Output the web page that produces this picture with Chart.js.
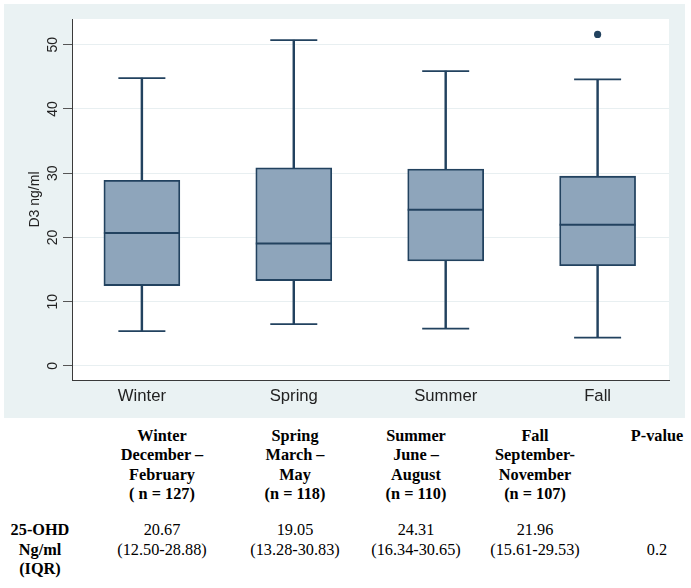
<!DOCTYPE html>
<html>
<head>
<meta charset="utf-8">
<script src="https://cdn.jsdelivr.net/npm/chart.js@4.4.1/dist/chart.umd.min.js"></script>
<style>
  body { margin: 0; background: #fff; width: 691px; height: 588px; position: relative; overflow: hidden; }
  #panel { position: absolute; left: 4px; top: 4px; width: 681px; height: 414px; background: #eaf2f3; }
  .cell { position: absolute; width: 150px; margin-left: -75px; text-align: center;
          font-family: "Liberation Serif", "Times New Roman", serif; font-size: 16.3px;
          line-height: 19.3px; color: #000; white-space: nowrap; }
  .b { font-weight: bold; }
</style>
</head>
<body>
<div id="panel"><canvas id="chart"></canvas></div>
<div id="table"></div>
<script>
const seasons = ['Winter', 'Spring', 'Summer', 'Fall'];
const monthsFrom = ['December \u2013', 'March \u2013', 'June \u2013', 'September-'];
const monthsTo = ['February', 'May', 'August', 'November'];
const nLabels = ['( n = 127)', '(n = 118)', '(n = 110)', '(n = 107)'];
const q1 = [12.50, 13.28, 16.34, 15.61];
const medians = [20.67, 19.05, 24.31, 21.96];
const q3 = [28.88, 30.83, 30.65, 29.53];
const whiskerLow = [5.4, 6.5, 5.8, 4.4];
const whiskerHigh = [44.8, 50.7, 45.9, 44.6];
const outlierSeason = [4];
const outlierValue = [51.6];
const yTicks = [0, 10, 20, 30, 40, 50];
const pValue = '0.2';

const navy = '#22425f';
const pos = seasons.map((s, i) => i + 1);
const pts = (vals) => vals.map((v, i) => ({ x: pos[i], y: v }));
const span = (a, b) => a.map((v, i) => ({ x: pos[i], y: [v, b[i]] }));

const plotBg = {
  id: 'plotBg',
  beforeDraw(chart) {
    const { ctx, chartArea: a } = chart;
    ctx.save();
    ctx.fillStyle = '#ffffff';
    ctx.fillRect(a.left, a.top, a.right - a.left, a.bottom - a.top);
    ctx.restore();
  }
};

const marker = (data, radius, width) => ({
  type: 'line',
  data: data,
  showLine: false,
  pointStyle: 'line',
  pointRadius: radius,
  pointHoverRadius: radius,
  pointBorderWidth: width,
  pointHoverBorderWidth: width,
  borderColor: navy,
  pointBorderColor: navy
});

const whisker = (data) => ({
  type: 'bar',
  data: data,
  grouped: false,
  barThickness: 1.8,
  backgroundColor: navy,
  borderWidth: 0
});

new Chart(document.getElementById('chart'), {
  type: 'bar',
  plugins: [plotBg],
  data: {
    datasets: [
      marker(pts(medians), 38, 2),
      {
        type: 'line',
        data: outlierValue.map((v, i) => ({ x: outlierSeason[i], y: v })),
        showLine: false,
        pointRadius: 3.6,
        pointHoverRadius: 3.6,
        pointBackgroundColor: navy,
        pointBorderColor: navy,
        pointBorderWidth: 0
      },
      marker(pts(whiskerHigh), 23.5, 1.8),
      marker(pts(whiskerLow), 23.5, 1.8),
      {
        type: 'bar',
        data: span(q1, q3),
        grouped: false,
        barThickness: 76,
        backgroundColor: '#8ea5bb',
        borderColor: navy,
        borderWidth: 1.8,
        borderSkipped: false
      },
      whisker(span(q3, whiskerHigh)),
      whisker(span(whiskerLow, q1))
    ]
  },
  options: {
    responsive: true,
    maintainAspectRatio: false,
    animation: false,
    layout: { autoPadding: false, padding: { top: 15, right: 16, left: 0, bottom: 0 } },
    plugins: { legend: { display: false }, tooltip: { enabled: false } },
    scales: {
      x: {
        type: 'linear',
        offset: false,
        min: 0.54,
        max: 4.47,
        afterBuildTicks: (s) => { s.ticks = pos.map((v) => ({ value: v })); },
        afterFit: (s) => { s.height = 38; s.paddingLeft = 0; s.paddingRight = 0; },
        grid: { display: false, offset: false },
        border: { display: true, color: '#3a3a3a', width: 1 },
        ticks: {
          padding: -2,
          color: '#222',
          font: { family: '"Liberation Sans", Arial, sans-serif', size: 16.7 },
          callback: (v) => seasons[Math.round(v) - 1]
        }
      },
      y: {
        min: -2.2,
        max: 54,
        afterBuildTicks: (s) => { s.ticks = yTicks.map((v) => ({ value: v })); },
        afterFit: (s) => { s.width = 68; s.paddingTop = 0; s.paddingBottom = 0; },
        grid: { color: '#e8eff1', tickColor: '#555', tickLength: 9, lineWidth: 1 },
        border: { display: true, color: '#3a3a3a', width: 1 },
        title: {
          display: true,
          text: 'D3 ng/ml',
          color: '#222',
          padding: { top: 22.6, bottom: 0 },
          font: { family: '"Liberation Sans", Arial, sans-serif', size: 14 }
        },
        ticks: {
          minRotation: 90,
          maxRotation: 90,
          crossAlign: 'center',
          padding: 2,
          color: '#222',
          font: { family: '"Liberation Sans", Arial, sans-serif', size: 14 }
        }
      }
    }
  }
});

// table under the chart, built from the same arrays
const colX = [162, 295, 416, 535];
const table = document.getElementById('table');
function cell(x, y, lines, bold) {
  const d = document.createElement('div');
  d.className = 'cell' + (bold ? ' b' : '');
  d.style.left = x + 'px';
  d.style.top = y + 'px';
  d.innerHTML = lines.join('<br>');
  table.appendChild(d);
}
seasons.forEach((s, i) => {
  cell(colX[i], 426, [s, monthsFrom[i], monthsTo[i], nLabels[i]], true);
  cell(colX[i], 520.4, [medians[i].toFixed(2), '(' + q1[i].toFixed(2) + '-' + q3[i].toFixed(2) + ')'], false);
});
cell(657, 426, ['P-value'], true);
cell(40, 520.4, ['25-OHD', 'Ng/ml', '(IQR)'], true);
cell(657, 539.7, [pValue], false);
</script>
</body>
</html>
